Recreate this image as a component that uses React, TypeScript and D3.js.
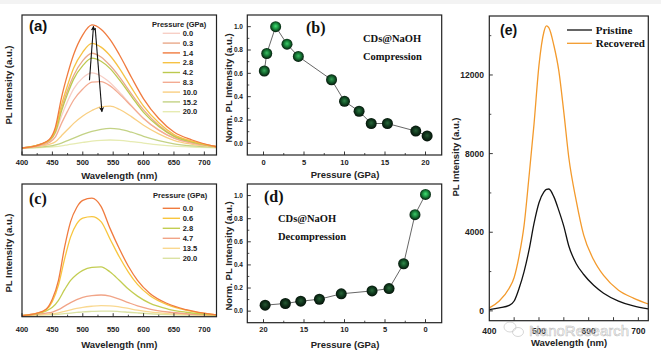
import React from "react";
import * as d3 from "d3";

// (a) PL spectra during compression, normalised to the 1.4 GPa peak
const wlA = [400, 430, 445, 455, 465, 475, 485, 500, 515, 530, 545, 560, 580, 600, 625, 650, 680, 720];
const pressA = ["0.0", "0.3", "1.4", "2.8", "4.2", "8.3", "10.0", "15.2", "20.0"];
const plA00 = [0, .025, .055, .12, .26, .38, .48, .57, .61, .585, .53, .455, .345, .24, .145, .08, .04, .01];
const plA03 = [0, .03, .06, .14, .32, .47, .59, .71, .77, .74, .67, .58, .44, .31, .185, .10, .05, .01];
const plA14 = [0, .03, .07, .17, .41, .60, .76, .92, 1.0, .965, .88, .76, .575, .40, .24, .13, .065, .01];
const plA28 = [0, .03, .065, .15, .35, .51, .65, .78, .85, .82, .75, .65, .49, .34, .205, .11, .055, .01];
const plA42 = [0, .03, .06, .13, .30, .44, .56, .67, .73, .705, .645, .555, .42, .29, .175, .095, .048, .01];
const plA83 = [0, .02, .045, .09, .20, .30, .39, .48, .535, .54, .505, .44, .34, .24, .145, .08, .04, .01];
const plA100 = [0, .015, .03, .05, .10, .15, .20, .26, .305, .335, .34, .315, .255, .185, .115, .062, .03, .008];
const plA152 = [0, .008, .015, .025, .04, .06, .08, .11, .135, .152, .16, .153, .128, .095, .06, .034, .017, .005];
const plA200 = [0, .004, .008, .012, .018, .026, .034, .045, .055, .062, .065, .062, .052, .04, .026, .015, .008, .002];
const colA = ["#f7cfc6", "#e9a98a", "#f07b3f", "#f6c244", "#bcc94f", "#f3ab92", "#f9cf82", "#c3d285", "#e6ebb2"];

// (b) normalised intensity vs pressure, compression
const pressB = [0.1, 0.4, 1.5, 2.9, 4.3, 8.4, 10.0, 11.8, 13.3, 15.3, 18.8, 20.2];
const normB = [0.62, 0.77, 1.0, 0.85, 0.745, 0.545, 0.36, 0.275, 0.17, 0.17, 0.105, 0.063];

// (c) PL spectra during decompression
const wlC = [400, 425, 440, 450, 460, 470, 480, 490, 500, 515, 530, 545, 560, 575, 590, 610, 640, 670, 720];
const pressC = ["0.0", "0.6", "2.8", "4.7", "13.5", "20.0"];
const plC00 = [0, .02, .055, .14, .30, .58, .80, .92, .98, 1.0, .93, .74, .57, .42, .30, .19, .10, .05, .005];
const plC06 = [0, .02, .05, .12, .26, .48, .67, .78, .83, .843, .80, .65, .50, .37, .265, .17, .09, .045, .005];
const plC28 = [0, .015, .04, .07, .13, .22, .30, .35, .385, .41, .415, .37, .30, .225, .165, .105, .055, .028, .004];
const plC47 = [0, .01, .02, .03, .05, .08, .11, .135, .155, .17, .175, .165, .14, .11, .082, .055, .03, .015, .003];
const plC135 = [0, .005, .01, .015, .023, .035, .048, .06, .07, .079, .084, .083, .074, .06, .046, .031, .017, .009, .002];
const plC200 = [0, .003, .005, .007, .011, .016, .021, .026, .031, .035, .038, .038, .034, .028, .022, .015, .008, .004, .001];
const colC = ["#f07b3f", "#f8c63e", "#c3cd52", "#f1a487", "#f9d890", "#dbe2a3"];

// (d) normalised intensity vs pressure, decompression
const pressD = [19.8, 17.3, 15.4, 13.1, 10.4, 6.6, 4.5, 2.7, 1.3, 0.0];
const normD = [0.052, 0.066, 0.086, 0.103, 0.15, 0.175, 0.195, 0.41, 0.835, 1.01];

// (e) pristine vs recovered
const wlE = [400, 420, 440, 450, 460, 470, 480, 490, 500, 510, 515, 520, 530, 540, 550, 560, 575, 590, 610, 630, 660, 690, 720];
const pristine = [60, 150, 280, 500, 1150, 2000, 3100, 4450, 5500, 6050, 6180, 6200, 5800, 5100, 4300, 3300, 2400, 1850, 1300, 900, 500, 250, 100];
const recovered = [150, 500, 1150, 1700, 2800, 4350, 6850, 9500, 12500, 14200, 14500, 14400, 13500, 12200, 10100, 7800, 5600, 3850, 2600, 1800, 1050, 650, 350];

const ticksWl = [400, 450, 500, 550, 600, 650, 700];
const minorWl = [425, 475, 525, 575, 625, 675];
const ticksP = [0, 5, 10, 15, 20];
const minorP = [2.5, 7.5, 12.5, 17.5];
const ticksNorm = [0, 0.2, 0.4, 0.6, 0.8, 1.0];
const ticksE = [0, 4000, 8000, 12000];
const minorE = [2000, 6000, 10000, 14000];
const ticksWlE = [450, 500, 550, 600, 650, 700];
const labelsWlE = [400, 500, 600, 700];

const sans = "'Liberation Sans', Arial, Helvetica, sans-serif";
const serif = "'Liberation Serif', 'Times New Roman', serif";
const ink = "#222";

const A = { x0: 22, x1: 216.5, y0: 15, y1: 155 };
const C = { x0: 22, x1: 216.5, y0: 184, y1: 316.7 };
const B = { x0: 247.3, x1: 441.7, y0: 15, y1: 155 };
const D = { x0: 247.3, x1: 441.7, y0: 184, y1: 322.7 };
const E = { x0: 489.3, x1: 648.3, y0: 16, y1: 320.7 };

function Frame({ f }: any) {
  return <rect x={f.x0} y={f.y0} width={f.x1 - f.x0} height={f.y1 - f.y0} fill="none" stroke={ink} strokeWidth={1.2} />;
}

function XTicks({ scale, y, major, minor, labels, labelY, size, fmt }: any) {
  return (
    <g>
      {minor.map((t: number) => (
        <line key={"m" + t} x1={scale(t)} x2={scale(t)} y1={y} y2={y - 2} stroke={ink} strokeWidth={0.8} />
      ))}
      {major.map((t: number) => (
        <line key={"M" + t} x1={scale(t)} x2={scale(t)} y1={y} y2={y - 3.5} stroke={ink} strokeWidth={0.9} />
      ))}
      {labels.map((t: number) => (
        <text key={"l" + t} x={scale(t)} y={labelY} textAnchor="middle" fontFamily={sans} fontWeight="bold" fontSize={size} fill={ink}>
          {fmt ? fmt(t) : t}
        </text>
      ))}
    </g>
  );
}

function YTicks({ scale, x, major, minor, labelX, size, fmt }: any) {
  return (
    <g>
      {minor.map((t: number) => (
        <line key={"m" + t} x1={x} x2={x + 2} y1={scale(t)} y2={scale(t)} stroke={ink} strokeWidth={0.8} />
      ))}
      {major.map((t: number) => (
        <g key={"M" + t}>
          <line x1={x} x2={x + 3.5} y1={scale(t)} y2={scale(t)} stroke={ink} strokeWidth={0.9} />
          <text x={labelX} y={scale(t) + size * 0.36} textAnchor="end" fontFamily={sans} fontWeight="bold" fontSize={size} fill={ink}>
            {fmt ? fmt(t) : t}
          </text>
        </g>
      ))}
    </g>
  );
}

function Sphere({ cx, cy, t, id }: any) {
  const k = Math.max(0, Math.min(1, t));
  const hi = d3.interpolateRgb("#24502f", "#42e074")(k);
  const mid = d3.interpolateRgb("#0e2a17", "#178a3c")(k);
  return (
    <g>
      <defs>
        <radialGradient id={id} cx="50%" cy="48%" r="55%" fx="50%" fy="45%">
          <stop offset="0%" stopColor={hi} />
          <stop offset="50%" stopColor={mid} />
          <stop offset="100%" stopColor="#030c06" />
        </radialGradient>
      </defs>
      <circle cx={cx} cy={cy} r={5.5} fill={`url(#${id})`} />
    </g>
  );
}

function YTitle({ x, y, text }: any) {
  return (
    <text transform={`translate(${x},${y}) rotate(-90)`} textAnchor="middle" fontFamily={sans} fontWeight="bold" fontSize={9.5} fill={ink}>
      {text}
    </text>
  );
}

function XTitle({ x, y, text }: any) {
  return (
    <text x={x} y={y} textAnchor="middle" fontFamily={sans} fontWeight="bold" fontSize={9.5} fill={ink}>
      {text}
    </text>
  );
}

export default function App() {
  const xa = d3.scaleLinear().domain([400, 720]).range([A.x0, A.x1]);
  const ya = d3.scaleLinear().domain([-0.057, 1.081]).range([A.y1, A.y0]);
  const xc = d3.scaleLinear().domain([400, 720]).range([C.x0, C.x1]);
  const yc = d3.scaleLinear().domain([-0.01, 1.12]).range([C.y1, C.y0]);
  const xb = d3.scaleLinear().domain([-2, 22]).range([B.x0, B.x1]);
  const yb = d3.scaleLinear().domain([-0.1, 1.1]).range([B.y1, B.y0]);
  const xd = d3.scaleLinear().domain([22, -2]).range([D.x0, D.x1]);
  const yd = d3.scaleLinear().domain([-0.1, 1.1]).range([D.y1, D.y0]);
  const xe = d3.scaleLinear().domain([400, 720]).range([E.x0, E.x1]);
  const ye = d3.scaleLinear().domain([-500, 15000]).range([E.y1, E.y0]);

  const seriesA = [plA00, plA03, plA14, plA28, plA42, plA83, plA100, plA152, plA200];
  const seriesC = [plC00, plC06, plC28, plC47, plC135, plC200];

  const lineA = d3.line<number>().x((_, i) => xa(wlA[i])).y((v) => ya(v)).curve(d3.curveMonotoneX);
  const lineC = d3.line<number>().x((_, i) => xc(wlC[i])).y((v) => yc(v)).curve(d3.curveMonotoneX);
  const lineE = d3.line<number>().x((_, i) => xe(wlE[i])).y((v) => ye(v)).curve(d3.curveMonotoneX);
  const lineB = d3.line<number>().x((_, i) => xb(pressB[i])).y((v) => yb(v));
  const lineD = d3.line<number>().x((_, i) => xd(pressD[i])).y((v) => yd(v));

  const arrowsA = [
    [511, 0.55, 517.6, 0.99],
    [520.4, 0.975, 531.5, 0.295],
  ];
  const f1 = d3.format(".1f");
  const drawOrderA = [8, 7, 6, 0, 5, 1, 4, 3, 2];
  const drawOrderC = [5, 4, 3, 2, 1, 0];

  return (
    <svg width={661} height={359} style={{ position: "absolute", left: 0, top: 0, background: "#fff" }}>
      <defs>
        <marker id="arr" viewBox="0 0 10 10" refX={9} refY={5} markerUnits="userSpaceOnUse" markerWidth={8} markerHeight={5} orient="auto">
          <path d="M0,0 L10,5 L0,10 L2.5,5 z" fill="#111" />
        </marker>
      </defs>
      <rect x={0} y={0} width={661} height={4} fill="#f3f3f3" />

      {/* (a) */}
      <g>
        {drawOrderA.map((i) => (
          <path key={i} d={lineA(seriesA[i]) || ""} fill="none" stroke={colA[i]} strokeWidth={1.3} />
        ))}
        {arrowsA.map((a, i) => (
          <line key={i} x1={xa(a[0])} y1={ya(a[1])} x2={xa(a[2])} y2={ya(a[3])} stroke="#111" strokeWidth={1.1} markerEnd="url(#arr)" />
        ))}
        <Frame f={A} />
        <XTicks scale={xa} y={A.y1} major={ticksWl} minor={minorWl} labels={ticksWl} labelY={164.5} size={7.5} />
        <XTitle x={(A.x0 + A.x1) / 2} y={178.5} text="Wavelength (nm)" />
        <YTitle x={11.5} y={85} text="PL Intensity (a.u.)" />
        <text x={29} y={30.5} fontFamily={sans} fontWeight="bold" fontSize={15} fill="#111">(a)</text>
        <text x={152} y={27} fontFamily={sans} fontWeight="bold" fontSize={7.5} fill={ink}>Pressure (GPa)</text>
        {pressA.map((p, i) => (
          <g key={p}>
            <line x1={162.7} x2={180} y1={33.3 + i * 9.8} y2={33.3 + i * 9.8} stroke={colA[i]} strokeWidth={1.4} />
            <text x={182.7} y={33.3 + i * 9.8 + 2.7} fontFamily={sans} fontWeight="bold" fontSize={7.5} fill={ink}>{p}</text>
          </g>
        ))}
      </g>

      {/* (c) */}
      <g>
        {drawOrderC.map((i) => (
          <path key={i} d={lineC(seriesC[i]) || ""} fill="none" stroke={colC[i]} strokeWidth={1.3} />
        ))}
        <Frame f={C} />
        <XTicks scale={xc} y={C.y1} major={ticksWl} minor={minorWl} labels={ticksWl} labelY={332} size={7.5} />
        <XTitle x={(C.x0 + C.x1) / 2} y={348} text="Wavelength (nm)" />
        <YTitle x={11.5} y={253} text="PL Intensity (a.u.)" />
        <text x={29} y={204} fontFamily={serif} fontWeight="bold" fontSize={16} fill="#111">(c)</text>
        <text x={153} y={198} fontFamily={sans} fontWeight="bold" fontSize={7.5} fill={ink}>Pressure (GPa)</text>
        {pressC.map((p, i) => (
          <g key={p}>
            <line x1={162.7} x2={180} y1={208.3 + i * 10} y2={208.3 + i * 10} stroke={colC[i]} strokeWidth={1.4} />
            <text x={182.7} y={208.3 + i * 10 + 2.7} fontFamily={sans} fontWeight="bold" fontSize={7.5} fill={ink}>{p}</text>
          </g>
        ))}
      </g>

      {/* (b) */}
      <g>
        <path d={lineB(normB) || ""} fill="none" stroke="#555" strokeWidth={0.9} />
        {normB.map((v, i) => (
          <Sphere key={i} id={"sb" + i} cx={xb(pressB[i])} cy={yb(v)} t={v} />
        ))}
        <Frame f={B} />
        <XTicks scale={xb} y={B.y1} major={ticksP} minor={minorP} labels={ticksP} labelY={165} size={7.5} />
        <YTicks scale={yb} x={B.x0} major={ticksNorm} minor={[0.1, 0.3, 0.5, 0.7, 0.9]} labelX={243} size={6.5} fmt={f1} />
        <XTitle x={345} y={178} text="Pressure (GPa)" />
        <YTitle x={231.5} y={88} text="Norm. PL Intensity (a.u.)" />
        <text x={306} y={33} fontFamily={serif} fontWeight="bold" fontSize={16} fill="#111">(b)</text>
        <text x={363} y={41.5} fontFamily={serif} fontWeight="bold" fontSize={10.5} fill="#111">CDs@NaOH</text>
        <text x={363} y={60} fontFamily={serif} fontWeight="bold" fontSize={10.5} fill="#111">Compression</text>
      </g>

      {/* (d) */}
      <g>
        <path d={lineD(normD) || ""} fill="none" stroke="#555" strokeWidth={0.9} />
        {normD.map((v, i) => (
          <Sphere key={i} id={"sd" + i} cx={xd(pressD[i])} cy={yd(v)} t={v} />
        ))}
        <Frame f={D} />
        <XTicks scale={xd} y={D.y1} major={ticksP} minor={minorP} labels={ticksP} labelY={332} size={7.5} />
        <YTicks scale={yd} x={D.x0} major={ticksNorm} minor={[0.1, 0.3, 0.5, 0.7, 0.9]} labelX={243} size={6.5} fmt={f1} />
        <XTitle x={345} y={348} text="Pressure (GPa)" />
        <YTitle x={231.5} y={256} text="Norm. PL Intensity (a.u.)" />
        <text x={264} y={202} fontFamily={serif} fontWeight="bold" fontSize={16} fill="#111">(d)</text>
        <text x={278} y={222} fontFamily={serif} fontWeight="bold" fontSize={10.5} fill="#111">CDs@NaOH</text>
        <text x={278} y={240} fontFamily={serif} fontWeight="bold" fontSize={10.5} fill="#111">Decompression</text>
      </g>

      {/* (e) */}
      <g>
        <path d={lineE(pristine) || ""} fill="none" stroke="#111" strokeWidth={1.3} />
        <path d={lineE(recovered) || ""} fill="none" stroke="#f39a2c" strokeWidth={1.3} />
        <Frame f={E} />
        <XTicks scale={xe} y={E.y1} major={ticksWlE} minor={[]} labels={labelsWlE} labelY={334} size={8.5} />
        <YTicks scale={ye} x={E.x0} major={ticksE} minor={minorE} labelX={484} size={8.5} />
        <XTitle x={569} y={346} text="Wavelength (nm)" />
        <YTitle x={458.5} y={157} text="PL Intensity (a.u.)" />
        <text x={500} y={35} fontFamily={sans} fontWeight="bold" fontSize={14} fill="#111">(e)</text>
        <line x1={567} x2={592} y1={30} y2={30} stroke="#111" strokeWidth={1.3} />
        <text x={595.7} y={33.5} fontFamily={serif} fontWeight="bold" fontSize={11} fill="#111">Pristine</text>
        <line x1={567} x2={592} y1={43.3} y2={43.3} stroke="#f39a2c" strokeWidth={1.3} />
        <text x={595.7} y={46.8} fontFamily={serif} fontWeight="bold" fontSize={11} fill="#111">Recovered</text>
        {/* watermark */}
        <g opacity={0.55} fill="none" stroke="#9a9a9a" strokeWidth={0.7}>
          <ellipse cx={510} cy={327} rx={6} ry={5} />
          <ellipse cx={518} cy={332} rx={5.5} ry={4.5} />
        </g>
        <text x={529} y={335.5} fontFamily={sans} fontSize={15} fill="#ffffff" fillOpacity={0.5} stroke="#a0a0a0" strokeOpacity={0.7} strokeWidth={0.6}>
          NanoResearch
        </text>
      </g>
    </svg>
  );
}
